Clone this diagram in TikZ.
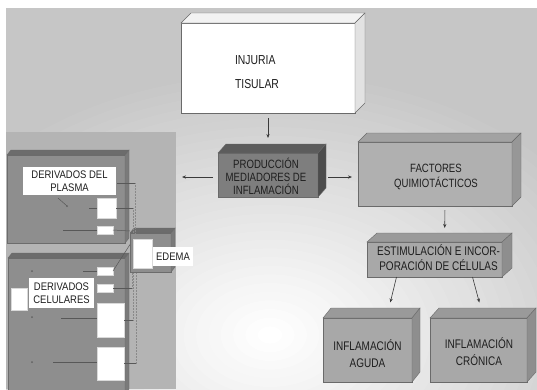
\documentclass[tikz,border=0pt]{standalone}
\usepackage{fontspec}
\setmainfont{Liberation Sans}[FakeStretch=0.8]
\newfontfamily\labfont{Liberation Sans}[FakeStretch=0.86]
\usetikzlibrary{arrows.meta}
\definecolor{bgcol}{HTML}{C6C6C6}
\definecolor{panelcol}{HTML}{B4B4B4}
\definecolor{edgecol}{HTML}{6A6A6A}
\definecolor{txtcol}{HTML}{1E1E1E}
\definecolor{arrcol}{HTML}{3A3A3A}
\definecolor{injF}{HTML}{FFFFFF}
\definecolor{injT}{HTML}{F2F2F2}
\definecolor{injS}{HTML}{E2E2E2}
\definecolor{prodF}{HTML}{7E7E7E}
\definecolor{prodT}{HTML}{5C5C5C}
\definecolor{prodS}{HTML}{4C4C4C}
\definecolor{lightF}{HTML}{B0B0B0}
\definecolor{lightT}{HTML}{A2A2A2}
\definecolor{lightS}{HTML}{979797}
\definecolor{midF}{HTML}{A8A8A8}
\definecolor{midT}{HTML}{9A9A9A}
\definecolor{midS}{HTML}{8E8E8E}
\definecolor{derF}{HTML}{8E8E8E}
\definecolor{derT}{HTML}{6C6C6C}
\definecolor{derS}{HTML}{7A7A7A}
\newcommand{\cubefaces}[5]{%
  \filldraw[fill=#4, draw=edgecol, line width=0.4pt] (#1.north west) -- ++(#2,-#3) -- ([shift={(#2,-#3)}]#1.north east) -- (#1.north east) -- cycle;
  \filldraw[fill=#5, draw=edgecol, line width=0.4pt] (#1.north east) -- ++(#2,-#3) -- ([shift={(#2,-#3)}]#1.south east) -- (#1.south east) -- cycle;
}
\begin{document}
\begin{tikzpicture}[x=1pt,y=-1pt,
  every node/.style={inner sep=0pt, outer sep=0pt},
  front/.style={draw=edgecol, line width=0.4pt, rectangle},
  txt/.style={text=txtcol, align=center},
  lab/.style={fill=white, text=txtcol, align=center, font={\labfont\fontsize{11}{12.5}\selectfont}},
  whiterect/.style={fill=white, draw=white!85!black, line width=0.3pt},
  arr/.style={draw=arrcol, line width=0.6pt, -{Stealth[length=4pt,width=3.2pt]}},
  leader/.style={draw=arrcol!85, line width=0.5pt},
  dotleader/.style={draw=arrcol!60, line width=0.5pt, densely dotted}]
\useasboundingbox (0,0) rectangle (537,389);
% background
\fill[white] (0,0) rectangle (537,389);
\begin{scope}
  \clip (6,8) rectangle (537,389);
  \fill[bgcol] (6,8) rectangle (537,389);
  \foreach \i in {0,...,29}{
    \pgfmathsetmacro{\rf}{1-\i/30}
    \pgfmathsetmacro{\wp}{(\i+1)*100/30}
    \fill[white!\wp!bgcol] (270,335) ellipse ({370*\rf} and {260*\rf});
  }
\end{scope}
% left panel
\node[fill=panelcol, minimum width=170, minimum height=257, anchor=north west] (panel) at (6,132) {};

% ---- main 3D boxes
\node[front, fill=injF, minimum width=174, minimum height=90] (injuria) at (268,68) {};
\cubefaces{injuria}{10}{10}{injT}{injS}
\node[front, fill=prodF, minimum width=100, minimum height=44] (prod) at (268,175) {};
\cubefaces{prod}{8}{9}{prodT}{prodS}
\node[front, fill=lightF, minimum width=154, minimum height=64] (factores) at (435,174) {};
\cubefaces{factores}{9}{9}{lightT}{lightS}
\node[front, fill=midF, minimum width=135, minimum height=35] (estim) at (434.5,259.5) {};
\cubefaces{estim}{10}{9}{midT}{midS}
\node[front, fill=midF, minimum width=89, minimum height=64] (aguda) at (367.5,350) {};
\cubefaces{aguda}{8}{10}{midT}{midS}
\node[front, fill=midF, minimum width=97, minimum height=64] (cronica) at (478.5,350) {};
\cubefaces{cronica}{9}{10}{midT}{midS}

% ---- texts of main boxes
\node[txt, align=left, font=\fontsize{13}{24}\selectfont] (injuriaT) at (257,72) {INJURIA\\TISULAR};
\node[txt, font=\fontsize{12}{13}\selectfont] (prodT) at (266,176) {PRODUCCIÓN\\MEDIADORES DE\\INFLAMACIÓN};
\node[txt, font=\fontsize{12}{15}\selectfont] (factT) at (436,177) {FACTORES\\QUIMIOTÁCTICOS};
\node[txt, font=\fontsize{12.5}{15}\selectfont] (estT) at (438.5,258) {ESTIMULACIÓN E INCOR-\\PORACIÓN DE CÉLULAS};
\node[txt, font=\fontsize{12.5}{17}\selectfont] (agT) at (367.5,353.5) {INFLAMACIÓN\\AGUDA};
\node[txt, font=\fontsize{12.5}{17}\selectfont] (crT) at (479,351.5) {INFLAMACIÓN\\CRÓNICA};

% ---- main arrows
\draw[arr, shorten <=5pt, shorten >=15pt] (injuria.south) -- (prod.north);
\draw[arr, shorten <=5pt, shorten >=6pt] ([yshift=-2]prod.west) -- ([yshift=-2]prod.west -| panel.east);
\draw[arr, shorten <=10pt, shorten >=6pt] ([yshift=-2]prod.east) -- ([yshift=-2]prod.east -| factores.west);
\draw[arr, shorten <=4pt, shorten >=14pt] ([xshift=10]factores.south) -- ([xshift=10]estim.north);
\draw[arr, shorten >=16pt] ([xshift=-38]estim.south) -- ([xshift=19]aguda.north);
\draw[arr, shorten >=16pt] ([xshift=38]estim.south) -- ([xshift=5]cronica.north);

% ---- left panel boxes
\node[front, draw=derT, fill=derF, minimum width=118, minimum height=88] (plasma) at (66,199) {};
\cubefaces{plasma}{4}{5}{derT}{derS}
\node[front, draw=derT, fill=derF, minimum width=117, minimum height=136] (celul) at (66.5,326) {};
\cubefaces{celul}{4}{5}{derT}{derS}
\node[front, draw=derT, fill=derF, minimum width=41, minimum height=39] (edemabox) at (150.5,252.5) {};
\cubefaces{edemabox}{4}{5}{derT}{derS}

% white elements
\node[whiterect, minimum width=19, minimum height=20] (p1) at (106.5,208) {};
\node[whiterect, minimum width=16, minimum height=8] (p2) at (105,230) {};
\node[whiterect, minimum width=16, minimum height=8] (c1) at (105,271) {};
\node[whiterect, minimum width=16, minimum height=8] (c2) at (105,288) {};
\node[whiterect, minimum width=27, minimum height=34] (c3) at (110.5,320) {};
\node[whiterect, minimum width=27, minimum height=33] (c4) at (110.5,363.5) {};
\node[whiterect, minimum width=16, minimum height=22] (cl) at (19,299) {};
\node[whiterect, minimum width=19, minimum height=29] (e1) at (142.5,253.5) {};

% labels
\node[lab, minimum width=93, minimum height=28] (plasmaL) at (69.5,181) {DERIVADOS DEL\\PLASMA};
\node[lab, minimum width=65, minimum height=30, font={\labfont\fontsize{11}{13}\selectfont}] (celL) at (61.5,293) {DERIVADOS\\CELULARES};
\node[lab, minimum width=40, minimum height=19] (edemaL) at (173,256.5) {EDEMA};

% leaders (plasma)
\coordinate (pd0) at (58,198);
\coordinate (pd1) at (67,206);
\draw[leader] (pd0) -- (pd1);
\coordinate (pa) at (89,208);
\draw[leader] (pa) -- (p1.west);
\coordinate (pb) at (63,230);
\draw[leader] (pb) -- (p2.west);
\coordinate (pc) at (117,183);
\coordinate (pc2) at (135,183);
\draw[leader] (pc) -- (pc2);
\draw[dotleader] (pc2) -- (pc2 |- edemabox.north);
\draw[leader] (p1.east) -- ++(17,0) coordinate (pe2);
\draw[dotleader] (pe2) -- (pe2 |- edemabox.north);
\draw[leader] (p2.east) -- ([shift={(0,-2)}]edemabox.north west);
% leaders (celulares)
\coordinate (ca) at (83,271);
\draw[leader] (ca) -- (c1.west);
\draw[leader] (c1.east) -- ([yshift=8]edemabox.west);
\draw[leader] (c2.east) -- ++(19,0) coordinate (cb2);
\draw[dotleader] (cb2) -- (cb2 |- edemabox.south);
\coordinate (cc) at (61,318);
\draw[leader] (cc) -- (cc -| c3.west);
\draw[leader] (c3.east) -- ++(9,0) coordinate (cc2);
\draw[dotleader] (cc2) -- (cc2 |- edemabox.south);
\coordinate (cd) at (53,362);
\draw[leader] (cd) -- (cd -| c4.west);
\draw[leader] (c4.east) -- ++(12,0) coordinate (cd2);
\draw[dotleader] (cd2) -- (cd2 |- edemabox.south);
% small marks
\foreach \p in {(32,271),(32,317),(32,362),(67,206)} \fill[arrcol!80] \p circle (1);
\end{tikzpicture}
\end{document}
